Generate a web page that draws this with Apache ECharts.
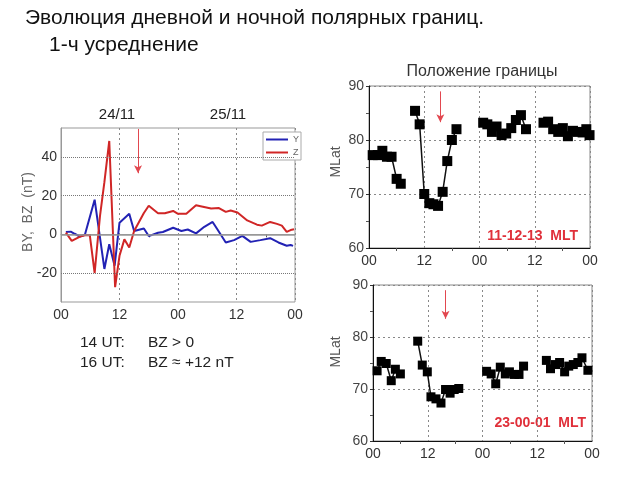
<!DOCTYPE html>
<html><head><meta charset="utf-8">
<script src="https://cdn.jsdelivr.net/npm/echarts@6/dist/echarts.min.js"></script>
<style>html,body{margin:0;padding:0;background:#fff}#c{width:640px;height:480px}</style>
</head><body><div id="c"></div>
<script>
// ---- data ----
const byHours = [1.0, 2.0, 2.8, 3.9, 4.9, 6.9, 8.9, 9.9, 11.0, 12.0, 14.0, 15.0, 17.0, 18.0, 19.9, 20.9, 23.0, 24.7, 26.0, 27.7, 29.4, 31.1, 32.1, 33.8, 35.5, 37.2, 38.9, 40.9, 42.9, 44.6, 46.3, 47.1, 47.6];
const byValues = [1.2, 1.4, 0.3, -1.2, -0.2, 17.9, -17.9, -5.1, -16.2, 6.0, 10.6, 1.7, 3.0, -0.9, 0.8, 1.2, 3.4, 1.7, 2.5, 0.5, 3.9, 6.4, 2.5, -4.2, -3.0, -0.8, -3.9, -3.0, -2.0, -4.2, -5.9, -5.5, -6.0];
const bzHours = [1.0, 2.2, 3.9, 4.9, 5.9, 6.9, 8.0, 8.9, 9.9, 11.1, 12.0, 13.0, 14.0, 15.0, 17.0, 18.0, 19.9, 21.3, 23.0, 24.0, 25.7, 27.7, 29.1, 30.8, 32.4, 33.8, 34.8, 36.2, 38.2, 40.2, 41.2, 42.9, 44.3, 45.3, 46.3, 47.1, 47.8];
const bzValues = [0.9, -3.4, -1.2, -0.5, -0.3, -20.0, 9.5, 27.0, 48.3, -27.3, -11.1, -2.6, -6.8, 1.7, 11.0, 14.8, 10.9, 10.9, 12.1, 10.6, 10.6, 15.0, 14.3, 13.4, 13.6, 11.6, 12.3, 11.3, 7.2, 5.0, 4.5, 6.4, 5.4, 4.5, 1.3, 2.2, 2.6];

const dayHours = [0.8, 1.9, 2.9, 3.9, 4.9, 6.0, 6.9, 8.5, 10.0, 11.0, 12.0, 13.1, 14.0, 15.0, 16.0, 17.0, 18.0, 19.0, 22.0, 24.8, 25.7, 26.7, 27.7, 28.8, 29.8, 30.9, 31.9, 33.0, 34.1, 36.0, 37.9, 38.9, 40.0, 41.1, 42.1, 43.2, 44.3, 45.3, 46.4, 47.2, 47.9];
const dayMLat = [77.2, 77.2, 78.0, 76.9, 76.9, 72.8, 71.9, null, 85.4, 82.9, 70.0, 68.3, 68.1, 67.8, 70.4, 76.1, 80.0, 82.0, null, 83.2, 82.9, 81.5, 82.5, 80.9, 81.2, 82.2, 83.7, 84.6, 82.0, null, 83.2, 83.4, 82.0, 81.5, 82.2, 80.7, 81.7, 81.5, 81.4, 82.0, 80.9];

const nightHours = [0.9, 1.8, 2.9, 4.0, 4.9, 6.0, 8.0, 9.8, 10.8, 11.9, 12.7, 13.8, 14.9, 15.9, 16.9, 17.8, 18.8, 22.0, 24.9, 25.9, 26.9, 27.9, 29.0, 29.9, 31.0, 32.0, 33.0, 36.0, 38.0, 38.9, 40.0, 40.9, 42.0, 42.9, 43.9, 44.9, 45.8, 47.1];
const nightMLat = [73.5, 75.3, 74.9, 71.6, 73.8, 72.9, null, 79.2, 74.6, 73.3, 68.5, 68.1, 67.3, 69.9, 69.2, 69.9, 70.1, null, 73.4, 72.9, 71.0, 74.2, 72.9, 73.3, 72.8, 72.8, 74.4, null, 75.5, 73.9, 74.7, 75.1, 73.3, 74.4, 74.7, 75.1, 76.0, 73.6];

const hourTicks = ['00', '12', '00', '12', '00'];
const imfTicks = [-20, 0, 20, 40];
const arrowHour = [15.8, 15.5, 15.9];

// ---- helpers ----
const FONT = 'Liberation Sans, Arial, sans-serif';
const pairs = (xs, ys) => xs.map((x, i) => [x, ys[i] == null ? '-' : ys[i]]);
const hourFmt = v => hourTicks[Math.round(v / 12)] || '';
const ARROW_RED = '#e2474f';

function arrowLine(x, y1, y2) {
  return {
    silent: true, symbol: ['none', 'arrow'], symbolSize: [6, 8],
    label: { show: false },
    lineStyle: { color: ARROW_RED, width: 1, type: 'solid' },
    itemStyle: { color: ARROW_RED },
    data: [[{ coord: [x, y1] }, { coord: [x, y2] }]]
  };
}

function xAxisCfg(gridIndex, lineColor) {
  return {
    type: 'value', gridIndex, min: 0, max: 48, interval: 12,
    axisLine: { show: true, lineStyle: { color: lineColor, width: 1 } },
    axisTick: { show: false },
    minorTick: { show: true, splitNumber: 2, length: 3, lineStyle: { color: '#555' } },
    axisLabel: { formatter: hourFmt, color: '#333', fontSize: 14, fontFamily: FONT, margin: 6 },
    splitLine: { show: true, lineStyle: { color: '#888', type: [2, 3], width: 1 } }
  };
}

function latYAxis(gridIndex) {
  return {
    type: 'value', gridIndex, min: 60, max: 90, interval: 10,
    axisLine: { show: true, lineStyle: { color: '#111', width: 1 } },
    axisTick: { show: true, length: 3, lineStyle: { color: '#333' } },
    minorTick: { show: true, splitNumber: 2, length: 3, lineStyle: { color: '#555' } },
    axisLabel: { color: '#444', fontSize: 14, fontFamily: FONT, margin: 5 },
    splitLine: { show: true, lineStyle: { color: '#888', type: [2, 3], width: 1 } }
  };
}

const chart = echarts.init(document.getElementById('c'), null, { renderer: 'canvas' });

const option = {
  animation: false,
  backgroundColor: '#fff',
  textStyle: { fontFamily: FONT },
  grid: [
    { left: 61, top: 128, width: 234, height: 174, show: true, borderColor: '#999', borderWidth: 1 },
    { left: 369, top: 86, width: 221, height: 162, show: true, borderColor: '#888', borderWidth: 1 },
    { left: 373, top: 285, width: 219, height: 156, show: true, borderColor: '#888', borderWidth: 1 }
  ],
  legend: {
    data: ['Y', 'Z'], orient: 'vertical', left: 263, top: 132,
    itemWidth: 22, itemHeight: 2, itemGap: 4, icon: 'rect',
    borderColor: '#aaa', borderWidth: 1, padding: [3, 2, 3, 3],
    backgroundColor: '#fff',
    textStyle: { fontSize: 9, color: '#666', fontFamily: FONT },
    selectedMode: false
  },
  xAxis: [xAxisCfg(0, '#999'), xAxisCfg(1, '#111'), xAxisCfg(2, '#111')],
  yAxis: [
    {
      type: 'value', gridIndex: 0, min: -35, max: 55, interval: 5,
      axisLine: { show: true, lineStyle: { color: '#999', width: 1 } },
      axisTick: { show: false },
      axisLabel: {
        color: '#333', fontSize: 14, fontFamily: FONT, margin: 4,
        formatter: v => (imfTicks.indexOf(Math.round(v)) >= 0 ? String(v) : '')
      },
      splitLine: { show: false }
    },
    latYAxis(1),
    latYAxis(2)
  ],
  series: [
    {
      name: 'grid-lines', type: 'line', xAxisIndex: 0, yAxisIndex: 0,
      data: [], silent: true, z: 1,
      markLine: {
        silent: true, symbol: ['none', 'none'], label: { show: false }, animation: false,
        lineStyle: { color: '#777', width: 1, type: 'dotted', opacity: 1 },
        data: [{ yAxis: 40 }, { yAxis: 20 }, { yAxis: -20 }]
      }
    },
    {
      name: 'Y', type: 'line', xAxisIndex: 0, yAxisIndex: 0,
      data: pairs(byHours, byValues), showSymbol: false, symbol: 'none',
      lineStyle: { color: '#2222b4', width: 2 }, itemStyle: { color: '#2222b4' }, z: 3,
      markLine: {
        silent: true, symbol: ['none', 'none'], label: { show: false },
        lineStyle: { color: '#999', width: 1.5, type: 'solid' },
        data: [{ yAxis: 0 }]
      }
    },
    {
      name: 'Z', type: 'line', xAxisIndex: 0, yAxisIndex: 0,
      data: pairs(bzHours, bzValues), showSymbol: false, symbol: 'none',
      lineStyle: { color: '#d02626', width: 2 }, itemStyle: { color: '#d02626' }, z: 4,
      markLine: arrowLine(arrowHour[0], 54.5, 31.6)
    },
    {
      name: 'day', type: 'line', xAxisIndex: 1, yAxisIndex: 1,
      data: pairs(dayHours, dayMLat), connectNulls: false,
      symbol: 'rect', symbolSize: 10, showSymbol: true,
      lineStyle: { color: '#111', width: 1.5 }, itemStyle: { color: '#000' },
      markLine: arrowLine(arrowHour[1], 89, 83.3)
    },
    {
      name: 'night', type: 'line', xAxisIndex: 2, yAxisIndex: 2,
      data: pairs(nightHours, nightMLat), connectNulls: false,
      symbol: 'rect', symbolSize: 9, showSymbol: true,
      lineStyle: { color: '#111', width: 1.5 }, itemStyle: { color: '#000' },
      markLine: arrowLine(arrowHour[2], 89, 83.5)
    }
  ],
  graphic: [
    { type: 'text', x: 25, y: 18, style: { text: 'Эволюция дневной и ночной полярных границ.', font: '21px ' + FONT, fill: '#111', verticalAlign: 'middle' } },
    { type: 'text', x: 49, y: 45, style: { text: '1-ч усреднение', font: '21px ' + FONT, fill: '#111', verticalAlign: 'middle' } },
    { type: 'text', x: 117, y: 115, style: { text: '24/11', font: '15px ' + FONT, fill: '#222', align: 'center', verticalAlign: 'middle' } },
    { type: 'text', x: 228, y: 115, style: { text: '25/11', font: '15px ' + FONT, fill: '#222', align: 'center', verticalAlign: 'middle' } },
    { type: 'text', x: 28, y: 212, rotation: Math.PI / 2, style: { text: 'BY,  BZ  (nT)', font: '14px ' + FONT, fill: '#666', align: 'center', verticalAlign: 'middle' } },
    { type: 'text', x: 482, y: 72, style: { text: 'Положение границы', font: '16px ' + FONT, fill: '#333', align: 'center', verticalAlign: 'middle' } },
    { type: 'text', x: 336, y: 162, rotation: Math.PI / 2, style: { text: 'MLat', font: '14px ' + FONT, fill: '#555', align: 'center', verticalAlign: 'middle' } },
    { type: 'text', x: 336, y: 352, rotation: Math.PI / 2, style: { text: 'MLat', font: '14px ' + FONT, fill: '#555', align: 'center', verticalAlign: 'middle' } },
    { type: 'text', x: 578, y: 236, style: { text: '11-12-13  MLT', font: 'bold 14px ' + FONT, fill: '#e0303a', align: 'right', verticalAlign: 'middle' } },
    { type: 'text', x: 586, y: 423, style: { text: '23-00-01  MLT', font: 'bold 14px ' + FONT, fill: '#e0303a', align: 'right', verticalAlign: 'middle' } },
    { type: 'text', x: 80, y: 343, style: { text: '14 UT:', font: '15.5px ' + FONT, fill: '#222', verticalAlign: 'middle' } },
    { type: 'text', x: 148, y: 343, style: { text: 'BZ > 0', font: '15.5px ' + FONT, fill: '#222', verticalAlign: 'middle' } },
    { type: 'text', x: 80, y: 363, style: { text: '16 UT:', font: '15.5px ' + FONT, fill: '#222', verticalAlign: 'middle' } },
    { type: 'text', x: 148, y: 363, style: { text: 'BZ ≈ +12 nT', font: '15.5px ' + FONT, fill: '#222', verticalAlign: 'middle' } }
  ]
};
chart.setOption(option);
</script>
</body></html>
